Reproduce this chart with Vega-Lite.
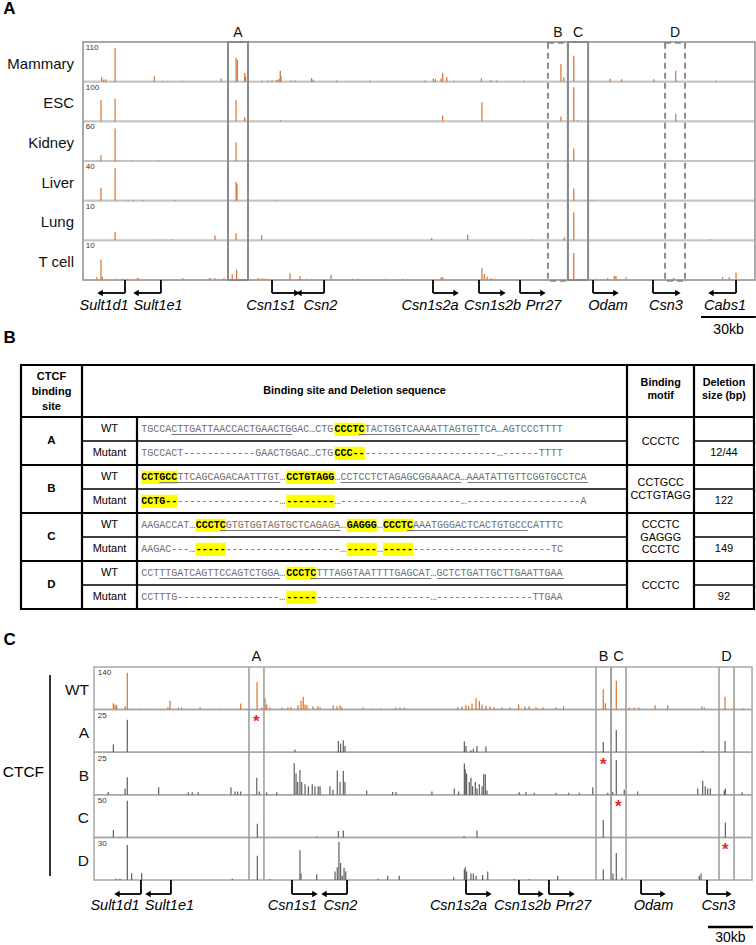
{
  "$schema": "https://vega.github.io/schema/vega-lite/v6.json",
  "padding": 0,
  "autosize": {"type": "pad"},
  "spacing": 0,
  "bounds": "flush",
  "config": {"view": {"stroke": null}, "axis": {"disable": true}, "legend": {"disable": true}, "font": "Liberation Sans"},
  "datasets": {
    "tracksA": [
      {"track": "Mammary", "max": 110}, {"track": "ESC", "max": 100}, {"track": "Kidney", "max": 60},
      {"track": "Liver", "max": 40}, {"track": "Lung", "max": 10}, {"track": "T cell", "max": 10}
    ],
    "signalA": [
      {"track":"Mammary","pos":10.2,"val":12},{"track":"Mammary","pos":11.3,"val":6},{"track":"Mammary","pos":12.5,"val":7},{"track":"Mammary","pos":17.5,"val":93},{"track":"Mammary","pos":38.9,"val":15},{"track":"Mammary","pos":43.8,"val":2},{"track":"Mammary","pos":46.2,"val":2},{"track":"Mammary","pos":54.4,"val":2},{"track":"Mammary","pos":75.4,"val":9},{"track":"Mammary","pos":83.5,"val":67},{"track":"Mammary","pos":84.2,"val":60},{"track":"Mammary","pos":88.2,"val":24},{"track":"Mammary","pos":88.7,"val":14},{"track":"Mammary","pos":97.6,"val":3},{"track":"Mammary","pos":100.9,"val":3},{"track":"Mammary","pos":103.1,"val":4},{"track":"Mammary","pos":105.3,"val":4},{"track":"Mammary","pos":106.2,"val":5},{"track":"Mammary","pos":107.1,"val":8},{"track":"Mammary","pos":107.6,"val":30},{"track":"Mammary","pos":108.0,"val":15},{"track":"Mammary","pos":113.5,"val":3},{"track":"Mammary","pos":115.6,"val":3},{"track":"Mammary","pos":124.7,"val":10},{"track":"Mammary","pos":125.6,"val":5},{"track":"Mammary","pos":138.4,"val":3},{"track":"Mammary","pos":156.5,"val":3},{"track":"Mammary","pos":186.5,"val":3},{"track":"Mammary","pos":191.1,"val":9},{"track":"Mammary","pos":192.2,"val":7},{"track":"Mammary","pos":195.3,"val":9},{"track":"Mammary","pos":196.2,"val":25},{"track":"Mammary","pos":198.4,"val":12},{"track":"Mammary","pos":202.5,"val":3},{"track":"Mammary","pos":217.3,"val":9},{"track":"Mammary","pos":222.5,"val":4},{"track":"Mammary","pos":225.7,"val":3},{"track":"Mammary","pos":240.4,"val":3},{"track":"Mammary","pos":260.7,"val":48},{"track":"Mammary","pos":262.2,"val":12},{"track":"Mammary","pos":267.7,"val":72},{"track":"Mammary","pos":287.6,"val":8},{"track":"Mammary","pos":293.8,"val":7},{"track":"Mammary","pos":311.3,"val":7},{"track":"Mammary","pos":323.3,"val":30},{"track":"Mammary","pos":345.3,"val":3},
      {"track":"ESC","pos":9.8,"val":54},{"track":"ESC","pos":17.5,"val":57},{"track":"ESC","pos":83.5,"val":54},{"track":"ESC","pos":88.2,"val":10},{"track":"ESC","pos":107.8,"val":3},{"track":"ESC","pos":196.2,"val":15},{"track":"ESC","pos":217.6,"val":48},{"track":"ESC","pos":260.7,"val":12},{"track":"ESC","pos":267.7,"val":86},{"track":"ESC","pos":269.8,"val":3},{"track":"ESC","pos":323.3,"val":19},
      {"track":"Kidney","pos":9.8,"val":8.6},{"track":"Kidney","pos":17.5,"val":49},{"track":"Kidney","pos":27.3,"val":1},{"track":"Kidney","pos":40.9,"val":1},{"track":"Kidney","pos":83.5,"val":28},{"track":"Kidney","pos":267.7,"val":19},
      {"track":"Liver","pos":9.8,"val":13},{"track":"Liver","pos":17.5,"val":33},{"track":"Liver","pos":24.5,"val":0.8},{"track":"Liver","pos":27.3,"val":0.8},{"track":"Liver","pos":32.7,"val":0.8},{"track":"Liver","pos":50.2,"val":0.8},{"track":"Liver","pos":83.5,"val":19},{"track":"Liver","pos":84.0,"val":17},{"track":"Liver","pos":105.8,"val":0.8},{"track":"Liver","pos":267.7,"val":12.4},{"track":"Liver","pos":277.7,"val":0.8},
      {"track":"Lung","pos":17.5,"val":2.1},{"track":"Lung","pos":42.0,"val":0.2},{"track":"Lung","pos":48.4,"val":0.2},{"track":"Lung","pos":72.0,"val":1.2},{"track":"Lung","pos":83.5,"val":1.8},{"track":"Lung","pos":97.5,"val":1.3},{"track":"Lung","pos":190.2,"val":0.6},{"track":"Lung","pos":209.8,"val":1.5},{"track":"Lung","pos":245.3,"val":0.2},{"track":"Lung","pos":262.5,"val":0.8},{"track":"Lung","pos":267.7,"val":7.1},{"track":"Lung","pos":342.2,"val":0.2},
      {"track":"T cell","pos":7.5,"val":0.7},{"track":"T cell","pos":9.8,"val":5.2},{"track":"T cell","pos":10.5,"val":0.8},{"track":"T cell","pos":17.5,"val":0.3},{"track":"T cell","pos":21.8,"val":0.3},{"track":"T cell","pos":24.5,"val":0.3},{"track":"T cell","pos":29.3,"val":0.4},{"track":"T cell","pos":30.2,"val":0.5},{"track":"T cell","pos":54.4,"val":0.5},{"track":"T cell","pos":68.9,"val":0.5},{"track":"T cell","pos":69.7,"val":0.4},{"track":"T cell","pos":72.0,"val":0.5},{"track":"T cell","pos":76.9,"val":0.5},{"track":"T cell","pos":81.4,"val":1.5},{"track":"T cell","pos":83.8,"val":2.6},{"track":"T cell","pos":95.6,"val":0.5},{"track":"T cell","pos":97.5,"val":0.4},{"track":"T cell","pos":98.7,"val":0.4},{"track":"T cell","pos":100.2,"val":0.4},{"track":"T cell","pos":112.9,"val":1.7},{"track":"T cell","pos":118.4,"val":1.0},{"track":"T cell","pos":122.0,"val":0.3},{"track":"T cell","pos":135.3,"val":1.3},{"track":"T cell","pos":147.1,"val":0.3},{"track":"T cell","pos":150.2,"val":0.3},{"track":"T cell","pos":165.3,"val":0.3},{"track":"T cell","pos":174.4,"val":0.3},{"track":"T cell","pos":195.3,"val":0.7},{"track":"T cell","pos":196.2,"val":0.7},{"track":"T cell","pos":217.6,"val":3.0},{"track":"T cell","pos":218.9,"val":1.5},{"track":"T cell","pos":220.4,"val":0.8},{"track":"T cell","pos":222.5,"val":0.5},{"track":"T cell","pos":224.4,"val":0.3},{"track":"T cell","pos":267.7,"val":6.8},{"track":"T cell","pos":279.8,"val":0.3},{"track":"T cell","pos":286.2,"val":0.5},{"track":"T cell","pos":289.8,"val":1.0},{"track":"T cell","pos":290.7,"val":1.0},{"track":"T cell","pos":296.2,"val":0.7},{"track":"T cell","pos":322.2,"val":0.5},{"track":"T cell","pos":348.9,"val":0.7},{"track":"T cell","pos":352.5,"val":0.7},{"track":"T cell","pos":356.2,"val":1.9}
    ],
    "regionsA": [
      {"site": "A", "start": 79.1, "end": 90.0, "type": "all tissues"},
      {"site": "B", "start": 253.6, "end": 264.5, "type": "mammary-specific"},
      {"site": "C", "start": 264.5, "end": 275.5, "type": "all tissues"},
      {"site": "D", "start": 317.5, "end": 328.4, "type": "mammary-specific"}
    ],
    "genesA": [
      {"gene": "Sult1d1", "tss": 22.9, "tip": 9.3, "lab": 11.5},
      {"gene": "Sult1e1", "tss": 42.5, "tip": 28.9, "lab": 40.9},
      {"gene": "Csn1s1", "tss": 103.1, "tip": 116.7, "lab": 102.5},
      {"gene": "Csn2", "tss": 131.5, "tip": 117.8, "lab": 129.5},
      {"gene": "Csn1s2a", "tss": 190.9, "tip": 203.5, "lab": 189.3},
      {"gene": "Csn1s2b", "tss": 216.0, "tip": 229.1, "lab": 223.4},
      {"gene": "Prr27", "tss": 238.4, "tip": 250.9, "lab": 251.2},
      {"gene": "Odam", "tss": 278.2, "tip": 290.7, "lab": 286.4},
      {"gene": "Csn3", "tss": 310.9, "tip": 324.5, "lab": 318.0},
      {"gene": "Cabs1", "tss": 356.2, "tip": 342.5, "lab": 350.2}
    ],
    "seqs": [
      {"site":"A","geno":"WT","part":1,"text":"TGCCACTTGATTAACCACTGAACTGGAC…CTG","motif":false},
      {"site":"A","geno":"WT","part":2,"text":"CCCTC","motif":true},
      {"site":"A","geno":"WT","part":3,"text":"TACTGGTCAAAATTAGTGTTCA…AGTCCCTTTT","motif":false},
      {"site":"A","geno":"Mutant","part":1,"text":"TGCCACT------------GAACTGGAC…CTG","motif":false},
      {"site":"A","geno":"Mutant","part":2,"text":"CCC--","motif":true},
      {"site":"A","geno":"Mutant","part":3,"text":"----------------------…------TTTT","motif":false},
      {"site":"B","geno":"WT","part":1,"text":"CCTGCC","motif":true},
      {"site":"B","geno":"WT","part":2,"text":"TTCAGCAGACAATTTGT…","motif":false},
      {"site":"B","geno":"WT","part":3,"text":"CCTGTAGG","motif":true},
      {"site":"B","geno":"WT","part":4,"text":"…CCTCCTCTAGAGCGGAAACA…AAATATTGTTCGGTGCCTCA","motif":false},
      {"site":"B","geno":"Mutant","part":1,"text":"CCTG--","motif":true},
      {"site":"B","geno":"Mutant","part":2,"text":"-----------------…","motif":false},
      {"site":"B","geno":"Mutant","part":3,"text":"--------","motif":true},
      {"site":"B","geno":"Mutant","part":4,"text":"…--------------------…-------------------A","motif":false},
      {"site":"C","geno":"WT","part":1,"text":"AAGACCAT…","motif":false},
      {"site":"C","geno":"WT","part":2,"text":"CCCTC","motif":true},
      {"site":"C","geno":"WT","part":3,"text":"GTGTGGTAGTGCTCAGAGA…","motif":false},
      {"site":"C","geno":"WT","part":4,"text":"GAGGG","motif":true},
      {"site":"C","geno":"WT","part":5,"text":"…","motif":false},
      {"site":"C","geno":"WT","part":6,"text":"CCCTC","motif":true},
      {"site":"C","geno":"WT","part":7,"text":"AAATGGGACTCACTGTGCCCATTTC","motif":false},
      {"site":"C","geno":"Mutant","part":1,"text":"AAGAC---…","motif":false},
      {"site":"C","geno":"Mutant","part":2,"text":"-----","motif":true},
      {"site":"C","geno":"Mutant","part":3,"text":"-------------------…","motif":false},
      {"site":"C","geno":"Mutant","part":4,"text":"-----","motif":true},
      {"site":"C","geno":"Mutant","part":5,"text":"…","motif":false},
      {"site":"C","geno":"Mutant","part":6,"text":"-----","motif":true},
      {"site":"C","geno":"Mutant","part":7,"text":"-----------------------TC","motif":false},
      {"site":"D","geno":"WT","part":1,"text":"CCTTTGATCAGTTCCAGTCTGGA…","motif":false},
      {"site":"D","geno":"WT","part":2,"text":"CCCTC","motif":true},
      {"site":"D","geno":"WT","part":3,"text":"TTTAGGTAATTTTGAGCAT…GCTCTGATTGCTTGAATTGAA","motif":false},
      {"site":"D","geno":"Mutant","part":1,"text":"CCTTTG-----------------…","motif":false},
      {"site":"D","geno":"Mutant","part":2,"text":"-----","motif":true},
      {"site":"D","geno":"Mutant","part":3,"text":"-------------------…----------------TTGAA","motif":false}
    ],
    "underlines": [
      {"site":"A","geno":"WT","from":5,"to":25},{"site":"A","geno":"WT","from":36,"to":56},
      {"site":"B","geno":"WT","from":3,"to":23},{"site":"B","geno":"WT","from":33,"to":53},{"site":"B","geno":"WT","from":54,"to":74},
      {"site":"C","geno":"WT","from":13,"to":33},{"site":"C","geno":"WT","from":44,"to":64},
      {"site":"D","geno":"WT","from":3,"to":23},{"site":"D","geno":"WT","from":28,"to":48},{"site":"D","geno":"WT","from":49,"to":70}
    ],
    "rowsB": [
      {"site":"A","geno":"WT"},{"site":"A","geno":"Mutant","size":"12/44"},
      {"site":"B","geno":"WT"},{"site":"B","geno":"Mutant","size":"122"},
      {"site":"C","geno":"WT"},{"site":"C","geno":"Mutant","size":"149"},
      {"site":"D","geno":"WT"},{"site":"D","geno":"Mutant","size":"92"}
    ],
    "motifsB": [
      {"site":"A","motif":"CCCTC"},{"site":"B","motif":"CCTGCC\nCCTGTAGG"},
      {"site":"C","motif":"CCCTC\nGAGGG\nCCCTC"},{"site":"D","motif":"CCCTC"}
    ],
    "tracksC": [
      {"track": "WT", "max": 140}, {"track": "A", "max": 25}, {"track": "B", "max": 25},
      {"track": "C", "max": 50}, {"track": "D", "max": 30}
    ],
    "signalC": [
      {"track":"WT","pos":12.9,"val":21},{"track":"WT","pos":14,"val":17},{"track":"WT","pos":15.1,"val":14},{"track":"WT","pos":20.7,"val":12},{"track":"WT","pos":22.2,"val":121},{"track":"WT","pos":25.3,"val":3},{"track":"WT","pos":30.7,"val":3},{"track":"WT","pos":37.3,"val":3},{"track":"WT","pos":44,"val":3},{"track":"WT","pos":49.3,"val":8},{"track":"WT","pos":50.7,"val":29},{"track":"WT","pos":56.2,"val":7},{"track":"WT","pos":58.4,"val":7},{"track":"WT","pos":70.7,"val":8},{"track":"WT","pos":84,"val":3},{"track":"WT","pos":97.8,"val":20},{"track":"WT","pos":108.7,"val":90},{"track":"WT","pos":111.8,"val":7},{"track":"WT","pos":114,"val":37},{"track":"WT","pos":115.1,"val":17},{"track":"WT","pos":117.3,"val":7},{"track":"WT","pos":125.3,"val":7},{"track":"WT","pos":129.3,"val":7},{"track":"WT","pos":131.3,"val":8},{"track":"WT","pos":136,"val":14},{"track":"WT","pos":138,"val":28},{"track":"WT","pos":139.5,"val":42},{"track":"WT","pos":140.7,"val":17},{"track":"WT","pos":142,"val":14},{"track":"WT","pos":146,"val":11},{"track":"WT","pos":149.3,"val":11},{"track":"WT","pos":150.7,"val":8},{"track":"WT","pos":159.5,"val":14},{"track":"WT","pos":162,"val":11},{"track":"WT","pos":164,"val":14},{"track":"WT","pos":165.3,"val":8},{"track":"WT","pos":179.5,"val":7},{"track":"WT","pos":185.3,"val":3},{"track":"WT","pos":191.3,"val":4},{"track":"WT","pos":201.3,"val":7},{"track":"WT","pos":204,"val":7},{"track":"WT","pos":206.7,"val":7},{"track":"WT","pos":226.9,"val":3},{"track":"WT","pos":242.4,"val":8},{"track":"WT","pos":245.3,"val":10},{"track":"WT","pos":248,"val":14},{"track":"WT","pos":249.8,"val":12},{"track":"WT","pos":252,"val":20},{"track":"WT","pos":254.7,"val":37},{"track":"WT","pos":256.9,"val":28},{"track":"WT","pos":258.7,"val":17},{"track":"WT","pos":261.3,"val":12},{"track":"WT","pos":264,"val":10},{"track":"WT","pos":266.7,"val":8},{"track":"WT","pos":272,"val":7},{"track":"WT","pos":277.3,"val":7},{"track":"WT","pos":283.1,"val":17},{"track":"WT","pos":287.3,"val":10},{"track":"WT","pos":290,"val":11},{"track":"WT","pos":294.7,"val":8},{"track":"WT","pos":299.3,"val":7},{"track":"WT","pos":308,"val":7},{"track":"WT","pos":313.1,"val":11},{"track":"WT","pos":339.5,"val":67},{"track":"WT","pos":340.9,"val":21},{"track":"WT","pos":348.2,"val":95},{"track":"WT","pos":356.7,"val":7},{"track":"WT","pos":360,"val":7},{"track":"WT","pos":363.3,"val":7},{"track":"WT","pos":374,"val":14},{"track":"WT","pos":382.5,"val":14},{"track":"WT","pos":405.3,"val":11},{"track":"WT","pos":406.9,"val":7},{"track":"WT","pos":420.7,"val":42},{"track":"WT","pos":426.2,"val":4},{"track":"WT","pos":432.9,"val":4},
      {"track":"A","pos":12.9,"val":4.7},{"track":"A","pos":22.2,"val":19},{"track":"A","pos":134,"val":1.6},{"track":"A","pos":162.9,"val":6.6},{"track":"A","pos":164.4,"val":5},{"track":"A","pos":166.2,"val":7},{"track":"A","pos":167.3,"val":3.7},{"track":"A","pos":246.9,"val":6.4},{"track":"A","pos":248,"val":3.7},{"track":"A","pos":251.3,"val":1.2},{"track":"A","pos":252.9,"val":2},{"track":"A","pos":255.3,"val":3.7},{"track":"A","pos":261.3,"val":3.3},{"track":"A","pos":339.5,"val":6},{"track":"A","pos":348.2,"val":13},{"track":"A","pos":405.8,"val":0.8},{"track":"A","pos":420.7,"val":6.6},
      {"track":"B","pos":9.5,"val":1.7},{"track":"B","pos":20.7,"val":3.7},{"track":"B","pos":22.2,"val":10.3},{"track":"B","pos":43.1,"val":4.4},{"track":"B","pos":62.9,"val":1.5},{"track":"B","pos":65.5,"val":1.5},{"track":"B","pos":69.5,"val":1.5},{"track":"B","pos":91.3,"val":4.4},{"track":"B","pos":94,"val":2},{"track":"B","pos":95.8,"val":2},{"track":"B","pos":97.8,"val":2},{"track":"B","pos":108.5,"val":10},{"track":"B","pos":110.2,"val":2},{"track":"B","pos":115.1,"val":1.5},{"track":"B","pos":121.8,"val":1.5},{"track":"B","pos":133.5,"val":18.5},{"track":"B","pos":134.7,"val":12.5},{"track":"B","pos":135.8,"val":7.5},{"track":"B","pos":137.3,"val":14.5},{"track":"B","pos":138.5,"val":7.5},{"track":"B","pos":140.7,"val":6.2},{"track":"B","pos":142.9,"val":5},{"track":"B","pos":145.5,"val":6.2},{"track":"B","pos":147.3,"val":5},{"track":"B","pos":149.5,"val":5},{"track":"B","pos":150.7,"val":5},{"track":"B","pos":157.3,"val":5},{"track":"B","pos":159.3,"val":3},{"track":"B","pos":162.2,"val":14.3},{"track":"B","pos":164,"val":7.5},{"track":"B","pos":166.2,"val":14},{"track":"B","pos":167.3,"val":7.5},{"track":"B","pos":181.8,"val":2.5},{"track":"B","pos":199.1,"val":1.7},{"track":"B","pos":201.3,"val":1.7},{"track":"B","pos":225.3,"val":2},{"track":"B","pos":240.2,"val":3.7},{"track":"B","pos":243.1,"val":2},{"track":"B","pos":246.9,"val":18.3},{"track":"B","pos":247.5,"val":15},{"track":"B","pos":248.4,"val":12.5},{"track":"B","pos":250.2,"val":7.5},{"track":"B","pos":251.3,"val":10},{"track":"B","pos":252.4,"val":5},{"track":"B","pos":254.2,"val":7.5},{"track":"B","pos":255.3,"val":3.7},{"track":"B","pos":256.9,"val":6.2},{"track":"B","pos":258.7,"val":5},{"track":"B","pos":259.8,"val":12},{"track":"B","pos":260.9,"val":12},{"track":"B","pos":262,"val":2.5},{"track":"B","pos":283.5,"val":1.5},{"track":"B","pos":288,"val":1.7},{"track":"B","pos":293.5,"val":1.2},{"track":"B","pos":308,"val":1.2},{"track":"B","pos":316.5,"val":1.2},{"track":"B","pos":323.5,"val":1.2},{"track":"B","pos":332.5,"val":4.4},{"track":"B","pos":342.5,"val":1.2},{"track":"B","pos":345.8,"val":1.7},{"track":"B","pos":348.2,"val":20.4},{"track":"B","pos":353.5,"val":3},{"track":"B","pos":362.5,"val":2},{"track":"B","pos":402.5,"val":3.7},{"track":"B","pos":405.8,"val":8.3},{"track":"B","pos":407.5,"val":5},{"track":"B","pos":409.1,"val":3.7},{"track":"B","pos":410.9,"val":3.7},{"track":"B","pos":420.2,"val":2.5},{"track":"B","pos":420.9,"val":3.7},{"track":"B","pos":432,"val":1.5},
      {"track":"C","pos":12.9,"val":8.6},{"track":"C","pos":22.2,"val":43},{"track":"C","pos":108.9,"val":16},{"track":"C","pos":148.5,"val":1},{"track":"C","pos":162.9,"val":7.5},{"track":"C","pos":166.2,"val":8},{"track":"C","pos":246.7,"val":1.5},{"track":"C","pos":255.3,"val":8},{"track":"C","pos":339.5,"val":20},{"track":"C","pos":420.9,"val":17.5},
      {"track":"D","pos":14.7,"val":0.9},{"track":"D","pos":17.3,"val":0.9},{"track":"D","pos":22.2,"val":24.6},{"track":"D","pos":25.1,"val":4.8},{"track":"D","pos":31.8,"val":4.8},{"track":"D","pos":92.2,"val":0.9},{"track":"D","pos":108.9,"val":17},{"track":"D","pos":117.3,"val":0.6},{"track":"D","pos":137.3,"val":21},{"track":"D","pos":138,"val":4.5},{"track":"D","pos":148.5,"val":4},{"track":"D","pos":160.7,"val":6},{"track":"D","pos":162.2,"val":9},{"track":"D","pos":163.3,"val":27},{"track":"D","pos":164.4,"val":12},{"track":"D","pos":165.5,"val":3},{"track":"D","pos":166.7,"val":8.6},{"track":"D","pos":167.8,"val":6},{"track":"D","pos":189.5,"val":0.9},{"track":"D","pos":195.8,"val":3},{"track":"D","pos":203.5,"val":3},{"track":"D","pos":239.8,"val":2},{"track":"D","pos":246.9,"val":7.5},{"track":"D","pos":247.5,"val":9},{"track":"D","pos":248.4,"val":6},{"track":"D","pos":251.3,"val":4.5},{"track":"D","pos":252.9,"val":4.5},{"track":"D","pos":254.7,"val":3},{"track":"D","pos":259.1,"val":3.6},{"track":"D","pos":262.5,"val":6},{"track":"D","pos":280.2,"val":0.6},{"track":"D","pos":290.2,"val":0.6},{"track":"D","pos":309.1,"val":3},{"track":"D","pos":339.5,"val":7.4},{"track":"D","pos":346,"val":4.5},{"track":"D","pos":348.2,"val":19},{"track":"D","pos":352,"val":1.8},{"track":"D","pos":403.5,"val":3},{"track":"D","pos":404.7,"val":4.5}
    ],
    "regionsC": [
      {"site": "A", "start": 103.3, "end": 113.3},
      {"site": "B", "start": 334.7, "end": 344.7},
      {"site": "C", "start": 344.7, "end": 354.7},
      {"site": "D", "start": 416.7, "end": 426.7}
    ],
    "deletedC": [
      {"track": "A", "pos": 108.2}, {"track": "B", "pos": 339.5},
      {"track": "C", "pos": 349.5}, {"track": "D", "pos": 420.9}
    ],
    "genesC": [
      {"gene": "Sult1d1", "tss": 31.3, "tip": 15.3, "lab": 14.0},
      {"gene": "Sult1e1", "tss": 51.3, "tip": 36.0, "lab": 50.3},
      {"gene": "Csn1s1", "tss": 132.0, "tip": 147.3, "lab": 132.3},
      {"gene": "Csn2", "tss": 168.7, "tip": 153.3, "lab": 164.3},
      {"gene": "Csn1s2a", "tss": 248.0, "tip": 263.3, "lab": 243.0},
      {"gene": "Csn1s2b", "tss": 283.3, "tip": 298.0, "lab": 285.7},
      {"gene": "Prr27", "tss": 303.3, "tip": 318.7, "lab": 319.7},
      {"gene": "Odam", "tss": 364.7, "tip": 379.3, "lab": 373.0},
      {"gene": "Csn3", "tss": 408.7, "tip": 423.3, "lab": 416.3}
    ]
  },
  "vconcat": [
    {
      "width": 756,
      "height": 335,
      "layer": [
        {
          "data": {"name": "tracksA"},
          "transform": [
            {"calculate": "indexof(['Mammary','ESC','Kidney','Liver','Lung','T cell'], datum.track)", "as": "i"},
            {"calculate": "datum.i + 1", "as": "i1"}
          ],
          "mark": {"type": "rect", "fillOpacity": 0, "stroke": "#c4c4c4", "strokeWidth": 1.8},
          "encoding": {
            "x": {"datum": 0, "type": "quantitative", "scale": {"domain": [-45.273, 367.091], "nice": false, "zero": false}},
            "x2": {"datum": 366.5},
            "y": {"field": "i", "type": "quantitative", "scale": {"domain": [-1.0588, 7.386], "reverse": true, "nice": false, "zero": false}},
            "y2": {"field": "i1"}
          }
        },
        {
          "data": {"name": "signalA"},
          "transform": [
            {"lookup": "track", "from": {"data": {"name": "tracksA"}, "key": "track", "fields": ["max"]}},
            {"calculate": "indexof(['Mammary','ESC','Kidney','Liver','Lung','T cell'], datum.track) + 1", "as": "base"},
            {"calculate": "datum.base - datum.val / datum.max", "as": "top"}
          ],
          "mark": {"type": "rule", "color": "#d9712a", "strokeWidth": 1.2},
          "encoding": {
            "x": {"field": "pos", "type": "quantitative"},
            "y": {"field": "base", "type": "quantitative"},
            "y2": {"field": "top"}
          }
        },
        {
          "data": {"values": [{}]},
          "mark": {"type": "rect", "fillOpacity": 0, "stroke": "#9e9e9e", "strokeWidth": 1.5},
          "encoding": {
            "x": {"datum": 0, "type": "quantitative"}, "x2": {"datum": 366.5},
            "y": {"datum": 0, "type": "quantitative"}, "y2": {"datum": 6}
          }
        },
        {
          "data": {"name": "regionsA"},
          "transform": [{"filter": "datum.type == 'mammary-specific'"}],
          "mark": {"type": "rect", "fillOpacity": 0, "stroke": "#8a8a8a", "strokeWidth": 2, "strokeDash": [6, 4]},
          "encoding": {
            "x": {"field": "start", "type": "quantitative"}, "x2": {"field": "end"},
            "y": {"datum": 0.02, "type": "quantitative"}, "y2": {"datum": 6.02}
          }
        },
        {
          "data": {"name": "regionsA"},
          "transform": [{"filter": "datum.type == 'all tissues'"}],
          "mark": {"type": "rect", "fillOpacity": 0, "stroke": "#8a8a8a", "strokeWidth": 2},
          "encoding": {
            "x": {"field": "start", "type": "quantitative"}, "x2": {"field": "end"},
            "y": {"datum": 0, "type": "quantitative"}, "y2": {"datum": 6}
          }
        },
        {
          "data": {"name": "regionsA"},
          "transform": [{"calculate": "(datum.start + datum.end) / 2", "as": "mid"}],
          "mark": {"type": "text", "fontSize": 14, "baseline": "middle", "color": "#111"},
          "encoding": {
            "x": {"field": "mid", "type": "quantitative"},
            "y": {"datum": -0.23, "type": "quantitative"},
            "text": {"field": "site"}
          }
        },
        {
          "data": {"name": "tracksA"},
          "transform": [
            {"calculate": "indexof(['Mammary','ESC','Kidney','Liver','Lung','T cell'], datum.track) + 0.55", "as": "ly"}
          ],
          "mark": {"type": "text", "fontSize": 15, "align": "right", "baseline": "middle", "color": "#111"},
          "encoding": {
            "x": {"datum": -4.9, "type": "quantitative"},
            "y": {"field": "ly", "type": "quantitative"},
            "text": {"field": "track"}
          }
        },
        {
          "data": {"name": "tracksA"},
          "transform": [
            {"calculate": "indexof(['Mammary','ESC','Kidney','Liver','Lung','T cell'], datum.track) + 0.15", "as": "ty"}
          ],
          "mark": {"type": "text", "fontSize": 8, "align": "left", "baseline": "middle", "color": "#333"},
          "encoding": {
            "x": {"datum": 1.5, "type": "quantitative"},
            "y": {"field": "ty", "type": "quantitative"},
            "text": {"field": "max"}
          }
        },
        {
          "data": {"name": "genesA"},
          "mark": {"type": "rule", "color": "#000", "strokeWidth": 1.8},
          "encoding": {
            "x": {"field": "tss", "type": "quantitative"},
            "y": {"datum": 6, "type": "quantitative"}, "y2": {"datum": 6.327}
          }
        },
        {
          "data": {"name": "genesA"},
          "mark": {"type": "rule", "color": "#000", "strokeWidth": 1.8},
          "encoding": {
            "x": {"field": "tss", "type": "quantitative"}, "x2": {"field": "tip"},
            "y": {"datum": 6.327, "type": "quantitative"}
          }
        },
        {
          "data": {"name": "genesA"},
          "transform": [{"calculate": "datum.tip > datum.tss ? 'right' : 'left'", "as": "dir"}],
          "mark": {"type": "point", "filled": true, "color": "#000", "size": 40, "opacity": 1},
          "encoding": {
            "x": {"field": "tip", "type": "quantitative"},
            "y": {"datum": 6.327, "type": "quantitative"},
            "shape": {"field": "dir", "type": "nominal", "scale": {"domain": ["left", "right"], "range": ["triangle-left", "triangle-right"]}, "legend": null}
          }
        },
        {
          "data": {"name": "genesA"},
          "mark": {"type": "text", "fontSize": 14.5, "fontStyle": "italic", "baseline": "middle", "color": "#000"},
          "encoding": {
            "x": {"field": "lab", "type": "quantitative"},
            "y": {"datum": 6.655, "type": "quantitative"},
            "text": {"field": "gene"}
          }
        },
        {
          "data": {"values": [{}]},
          "mark": {"type": "rule", "color": "#000", "strokeWidth": 2},
          "encoding": {
            "x": {"datum": 337.1, "type": "quantitative"}, "x2": {"datum": 367.0},
            "y": {"datum": 6.932, "type": "quantitative"}
          }
        },
        {
          "data": {"values": [{}]},
          "mark": {"type": "text", "text": "30kb", "fontSize": 14, "baseline": "middle", "color": "#000"},
          "encoding": {
            "x": {"datum": 352.1, "type": "quantitative"},
            "y": {"datum": 7.26, "type": "quantitative"}
          }
        },
        {
          "data": {"values": [{}]},
          "mark": {"type": "text", "text": "A", "fontSize": 17, "fontWeight": "bold", "align": "left", "baseline": "middle", "color": "#000"},
          "encoding": {
            "x": {"datum": -43.5, "type": "quantitative"},
            "y": {"datum": -0.82, "type": "quantitative"}
          }
        }
      ]
    },
    {
      "width": 756,
      "height": 280,
      "layer": [
        {
          "data": {"name": "seqs"},
          "transform": [
            {"calculate": "length(datum.text)", "as": "len"},
            {"window": [{"op": "sum", "field": "len", "as": "cum"}], "groupby": ["site", "geno"], "sort": [{"field": "part", "order": "ascending"}], "frame": [null, 0]},
            {"calculate": "datum.cum - datum.len", "as": "start"},
            {"calculate": "indexof(['A','B','C','D'], datum.site) * 2 + (datum.geno == 'Mutant' ? 1 : 0)", "as": "row"},
            {"calculate": "datum.row + 0.24", "as": "hy1"},
            {"calculate": "datum.row + 0.79", "as": "hy2"},
            {"filter": "datum.motif"}
          ],
          "mark": {"type": "rect", "color": "#ffff00"},
          "encoding": {
            "x": {"field": "start", "type": "quantitative", "scale": {"domain": [-23.394, 101.772], "nice": false, "zero": false}},
            "x2": {"field": "cum"},
            "y": {"field": "hy1", "type": "quantitative", "scale": {"domain": [-3.4167, 8.25], "reverse": true, "nice": false, "zero": false}},
            "y2": {"field": "hy2"}
          }
        },
        {
          "data": {"name": "seqs"},
          "transform": [
            {"calculate": "length(datum.text)", "as": "len"},
            {"window": [{"op": "sum", "field": "len", "as": "cum"}], "groupby": ["site", "geno"], "sort": [{"field": "part", "order": "ascending"}], "frame": [null, 0]},
            {"calculate": "datum.cum - datum.len", "as": "start"},
            {"calculate": "indexof(['A','B','C','D'], datum.site) * 2 + (datum.geno == 'Mutant' ? 1 : 0) + 0.5", "as": "ty"},
            {"filter": "!datum.motif"}
          ],
          "mark": {"type": "text", "font": "Liberation Mono", "fontSize": 10, "align": "left", "baseline": "middle", "color": "#6e6e6e"},
          "encoding": {
            "x": {"field": "start", "type": "quantitative"},
            "y": {"field": "ty", "type": "quantitative"},
            "text": {"field": "text"}
          }
        },
        {
          "data": {"name": "seqs"},
          "transform": [
            {"calculate": "length(datum.text)", "as": "len"},
            {"window": [{"op": "sum", "field": "len", "as": "cum"}], "groupby": ["site", "geno"], "sort": [{"field": "part", "order": "ascending"}], "frame": [null, 0]},
            {"calculate": "datum.cum - datum.len", "as": "start"},
            {"calculate": "indexof(['A','B','C','D'], datum.site) * 2 + (datum.geno == 'Mutant' ? 1 : 0) + 0.5", "as": "ty"},
            {"filter": "datum.motif"}
          ],
          "mark": {"type": "text", "font": "Liberation Mono", "fontSize": 10, "fontWeight": "bold", "align": "left", "baseline": "middle", "color": "#000"},
          "encoding": {
            "x": {"field": "start", "type": "quantitative"},
            "y": {"field": "ty", "type": "quantitative"},
            "text": {"field": "text"}
          }
        },
        {
          "data": {"name": "underlines"},
          "transform": [
            {"calculate": "indexof(['A','B','C','D'], datum.site) * 2 + (datum.geno == 'Mutant' ? 1 : 0) + 0.73", "as": "uy"}
          ],
          "mark": {"type": "rule", "color": "#777", "strokeWidth": 1},
          "encoding": {
            "x": {"field": "from", "type": "quantitative"}, "x2": {"field": "to"},
            "y": {"field": "uy", "type": "quantitative"}
          }
        },
        {
          "data": {"name": "rowsB"},
          "transform": [
            {"calculate": "indexof(['A','B','C','D'], datum.site) * 2 + (datum.geno == 'Mutant' ? 1 : 0)", "as": "row"},
            {"filter": "datum.geno == 'WT'"}
          ],
          "mark": {"type": "rule", "color": "#000", "strokeWidth": 2.2},
          "encoding": {
            "x": {"datum": -19.917, "type": "quantitative"}, "x2": {"datum": 101.44},
            "y": {"field": "row", "type": "quantitative"}
          }
        },
        {
          "data": {"name": "rowsB"},
          "transform": [
            {"calculate": "indexof(['A','B','C','D'], datum.site) * 2 + (datum.geno == 'Mutant' ? 1 : 0)", "as": "row"},
            {"filter": "datum.geno == 'Mutant'"}
          ],
          "mark": {"type": "rule", "color": "#000", "strokeWidth": 1.6},
          "encoding": {
            "x": {"datum": -9.818, "type": "quantitative"}, "x2": {"datum": 80.414},
            "y": {"field": "row", "type": "quantitative"}
          }
        },
        {
          "data": {"name": "rowsB"},
          "transform": [
            {"calculate": "indexof(['A','B','C','D'], datum.site) * 2 + (datum.geno == 'Mutant' ? 1 : 0)", "as": "row"},
            {"filter": "datum.geno == 'Mutant'"}
          ],
          "mark": {"type": "rule", "color": "#000", "strokeWidth": 1.6},
          "encoding": {
            "x": {"datum": 91.507, "type": "quantitative"}, "x2": {"datum": 101.44},
            "y": {"field": "row", "type": "quantitative"}
          }
        },
        {
          "data": {"values": [{}]},
          "mark": {"type": "rect", "fillOpacity": 0, "stroke": "#000", "strokeWidth": 2.2},
          "encoding": {
            "x": {"datum": -19.917, "type": "quantitative"}, "x2": {"datum": 101.44},
            "y": {"datum": -2.1667, "type": "quantitative"}, "y2": {"datum": 8}
          }
        },
        {
          "data": {"values": [{}]},
          "mark": {"type": "rule", "color": "#000", "strokeWidth": 2.2},
          "encoding": {
            "x": {"datum": -9.818, "type": "quantitative"},
            "y": {"datum": -2.1667, "type": "quantitative"}, "y2": {"datum": 8}
          }
        },
        {
          "data": {"values": [{}]},
          "mark": {"type": "rule", "color": "#000", "strokeWidth": 2.2},
          "encoding": {
            "x": {"datum": -0.712, "type": "quantitative"},
            "y": {"datum": 0, "type": "quantitative"}, "y2": {"datum": 8}
          }
        },
        {
          "data": {"values": [{}]},
          "mark": {"type": "rule", "color": "#000", "strokeWidth": 2.2},
          "encoding": {
            "x": {"datum": 80.414, "type": "quantitative"},
            "y": {"datum": -2.1667, "type": "quantitative"}, "y2": {"datum": 8}
          }
        },
        {
          "data": {"values": [{}]},
          "mark": {"type": "rule", "color": "#000", "strokeWidth": 2.2},
          "encoding": {
            "x": {"datum": 91.507, "type": "quantitative"},
            "y": {"datum": -2.1667, "type": "quantitative"}, "y2": {"datum": 8}
          }
        },
        {
          "data": {"values": [{}]},
          "mark": {"type": "text", "text": "CTCF\nbinding\nsite", "lineBreak": "\n", "lineHeight": 15, "fontSize": 11, "fontWeight": "bold", "align": "center", "baseline": "middle", "color": "#000"},
          "encoding": {
            "x": {"datum": -14.868, "type": "quantitative"},
            "y": {"datum": -1.679, "type": "quantitative"}
          }
        },
        {
          "data": {"values": [{}]},
          "mark": {"type": "text", "text": "Binding site and Deletion sequence", "fontSize": 10.8, "fontWeight": "bold", "align": "center", "baseline": "middle", "color": "#000"},
          "encoding": {
            "x": {"datum": 35.3, "type": "quantitative"},
            "y": {"datum": -1.083, "type": "quantitative"}
          }
        },
        {
          "data": {"values": [{}]},
          "mark": {"type": "text", "text": "Binding\nmotif", "lineBreak": "\n", "lineHeight": 13.5, "fontSize": 10.8, "fontWeight": "bold", "align": "center", "baseline": "middle", "color": "#000"},
          "encoding": {
            "x": {"datum": 85.99, "type": "quantitative"},
            "y": {"datum": -1.417, "type": "quantitative"}
          }
        },
        {
          "data": {"values": [{}]},
          "mark": {"type": "text", "text": "Deletion\nsize (bp)", "lineBreak": "\n", "lineHeight": 13.5, "fontSize": 10.8, "fontWeight": "bold", "align": "center", "baseline": "middle", "color": "#000"},
          "encoding": {
            "x": {"datum": 96.47, "type": "quantitative"},
            "y": {"datum": -1.417, "type": "quantitative"}
          }
        },
        {
          "data": {"name": "rowsB"},
          "transform": [
            {"filter": "datum.geno == 'WT'"},
            {"calculate": "indexof(['A','B','C','D'], datum.site) * 2 + 1", "as": "sy"}
          ],
          "mark": {"type": "text", "fontSize": 11.5, "fontWeight": "bold", "align": "center", "baseline": "middle", "color": "#000"},
          "encoding": {
            "x": {"datum": -14.868, "type": "quantitative"},
            "y": {"field": "sy", "type": "quantitative"},
            "text": {"field": "site"}
          }
        },
        {
          "data": {"name": "rowsB"},
          "transform": [
            {"calculate": "indexof(['A','B','C','D'], datum.site) * 2 + (datum.geno == 'Mutant' ? 1 : 0) + 0.5", "as": "ty"}
          ],
          "mark": {"type": "text", "fontSize": 11, "align": "center", "baseline": "middle", "color": "#000"},
          "encoding": {
            "x": {"datum": -5.265, "type": "quantitative"},
            "y": {"field": "ty", "type": "quantitative"},
            "text": {"field": "geno"}
          }
        },
        {
          "data": {"name": "rowsB"},
          "transform": [
            {"filter": "datum.geno == 'Mutant'"},
            {"calculate": "indexof(['A','B','C','D'], datum.site) * 2 + 1.5", "as": "ty"}
          ],
          "mark": {"type": "text", "fontSize": 11, "align": "center", "baseline": "middle", "color": "#000"},
          "encoding": {
            "x": {"datum": 96.47, "type": "quantitative"},
            "y": {"field": "ty", "type": "quantitative"},
            "text": {"field": "size"}
          }
        },
        {
          "data": {"name": "motifsB"},
          "transform": [
            {"calculate": "indexof(['A','B','C','D'], datum.site) * 2 + 1.04 - (length(split(datum.motif, '\\n')) - 1) * 0.27", "as": "my"}
          ],
          "mark": {"type": "text", "lineBreak": "\n", "lineHeight": 12.5, "fontSize": 10.8, "align": "center", "baseline": "middle", "color": "#000"},
          "encoding": {
            "x": {"datum": 85.99, "type": "quantitative"},
            "y": {"field": "my", "type": "quantitative"},
            "text": {"field": "motif"}
          }
        },
        {
          "data": {"values": [{}]},
          "mark": {"type": "text", "text": "B", "fontSize": 17, "fontWeight": "bold", "align": "left", "baseline": "middle", "color": "#000"},
          "encoding": {
            "x": {"datum": -22.81, "type": "quantitative"},
            "y": {"datum": -3.29, "type": "quantitative"}
          }
        }
      ]
    },
    {
      "width": 756,
      "height": 330,
      "layer": [
        {
          "data": {"name": "tracksC"},
          "transform": [
            {"calculate": "indexof(['WT','A','B','C','D'], datum.track)", "as": "i"},
            {"calculate": "datum.i + 1", "as": "i1"}
          ],
          "mark": {"type": "rect", "fillOpacity": 0, "stroke": "#a8a8a8", "strokeWidth": 1.5},
          "encoding": {
            "x": {"datum": 0, "type": "quantitative", "scale": {"domain": [-62.667, 441.333], "nice": false, "zero": false}},
            "x2": {"datum": 438.7},
            "y": {"field": "i", "type": "quantitative", "scale": {"domain": [-1.2207, 6.5258], "reverse": true, "nice": false, "zero": false}},
            "y2": {"field": "i1"}
          }
        },
        {
          "data": {"name": "signalC"},
          "transform": [
            {"lookup": "track", "from": {"data": {"name": "tracksC"}, "key": "track", "fields": ["max"]}},
            {"calculate": "indexof(['WT','A','B','C','D'], datum.track) + 1", "as": "base"},
            {"calculate": "datum.base - datum.val / datum.max", "as": "top"},
            {"calculate": "datum.track == 'WT' ? 'wild type' : 'CTCF site deletion'", "as": "genotype"}
          ],
          "mark": {"type": "rule", "strokeWidth": 1.2},
          "encoding": {
            "x": {"field": "pos", "type": "quantitative"},
            "y": {"field": "base", "type": "quantitative"},
            "y2": {"field": "top"},
            "color": {"field": "genotype", "type": "nominal", "scale": {"domain": ["wild type", "CTCF site deletion"], "range": ["#d9712a", "#5e5e5e"]}, "legend": null}
          }
        },
        {
          "data": {"name": "regionsC"},
          "mark": {"type": "rule", "color": "#9a9a9a", "strokeWidth": 1.5},
          "encoding": {
            "x": {"field": "start", "type": "quantitative"},
            "y": {"datum": 0, "type": "quantitative"}, "y2": {"datum": 5}
          }
        },
        {
          "data": {"name": "regionsC"},
          "mark": {"type": "rule", "color": "#9a9a9a", "strokeWidth": 1.5},
          "encoding": {
            "x": {"field": "end", "type": "quantitative"},
            "y": {"datum": 0, "type": "quantitative"}, "y2": {"datum": 5}
          }
        },
        {
          "data": {"name": "regionsC"},
          "transform": [{"calculate": "(datum.start + datum.end) / 2", "as": "mid"}],
          "mark": {"type": "text", "fontSize": 14.5, "baseline": "middle", "color": "#111"},
          "encoding": {
            "x": {"field": "mid", "type": "quantitative"},
            "y": {"datum": -0.235, "type": "quantitative"},
            "text": {"field": "site"}
          }
        },
        {
          "data": {"name": "tracksC"},
          "transform": [
            {"calculate": "indexof(['WT','A','B','C','D'], datum.track) + 0.55", "as": "ly"}
          ],
          "mark": {"type": "text", "fontSize": 15.5, "align": "right", "baseline": "middle", "color": "#111"},
          "encoding": {
            "x": {"datum": -3.33, "type": "quantitative"},
            "y": {"field": "ly", "type": "quantitative"},
            "text": {"field": "track"}
          }
        },
        {
          "data": {"name": "tracksC"},
          "transform": [
            {"calculate": "indexof(['WT','A','B','C','D'], datum.track) + 0.15", "as": "ty"}
          ],
          "mark": {"type": "text", "fontSize": 8, "align": "left", "baseline": "middle", "color": "#333"},
          "encoding": {
            "x": {"datum": 2.5, "type": "quantitative"},
            "y": {"field": "ty", "type": "quantitative"},
            "text": {"field": "max"}
          }
        },
        {
          "data": {"name": "deletedC"},
          "transform": [
            {"calculate": "indexof(['WT','A','B','C','D'], datum.track) + 0.2", "as": "ay"}
          ],
          "mark": {"type": "text", "text": "*", "fontSize": 17, "fontWeight": "bold", "align": "center", "baseline": "alphabetic", "dy": 9, "color": "#e8262a"},
          "encoding": {
            "x": {"field": "pos", "type": "quantitative"},
            "y": {"field": "ay", "type": "quantitative"}
          }
        },
        {
          "data": {"values": [{}]},
          "mark": {"type": "text", "text": "CTCF", "fontSize": 15.5, "align": "right", "baseline": "middle", "color": "#000"},
          "encoding": {
            "x": {"datum": -33.3, "type": "quantitative"},
            "y": {"datum": 2.458, "type": "quantitative"}
          }
        },
        {
          "data": {"values": [{}]},
          "mark": {"type": "rule", "color": "#000", "strokeWidth": 1.6},
          "encoding": {
            "x": {"datum": -29.33, "type": "quantitative"},
            "y": {"datum": 0.188, "type": "quantitative"}, "y2": {"datum": 4.906}
          }
        },
        {
          "data": {"name": "genesC"},
          "mark": {"type": "rule", "color": "#000", "strokeWidth": 1.8},
          "encoding": {
            "x": {"field": "tss", "type": "quantitative"},
            "y": {"datum": 5, "type": "quantitative"}, "y2": {"datum": 5.329}
          }
        },
        {
          "data": {"name": "genesC"},
          "mark": {"type": "rule", "color": "#000", "strokeWidth": 1.8},
          "encoding": {
            "x": {"field": "tss", "type": "quantitative"}, "x2": {"field": "tip"},
            "y": {"datum": 5.329, "type": "quantitative"}
          }
        },
        {
          "data": {"name": "genesC"},
          "transform": [{"calculate": "datum.tip > datum.tss ? 'right' : 'left'", "as": "dir"}],
          "mark": {"type": "point", "filled": true, "color": "#000", "size": 40, "opacity": 1},
          "encoding": {
            "x": {"field": "tip", "type": "quantitative"},
            "y": {"datum": 5.329, "type": "quantitative"},
            "shape": {"field": "dir", "type": "nominal", "scale": {"domain": ["left", "right"], "range": ["triangle-left", "triangle-right"]}, "legend": null}
          }
        },
        {
          "data": {"name": "genesC"},
          "mark": {"type": "text", "fontSize": 14.5, "fontStyle": "italic", "baseline": "middle", "color": "#000"},
          "encoding": {
            "x": {"field": "lab", "type": "quantitative"},
            "y": {"datum": 5.622, "type": "quantitative"},
            "text": {"field": "gene"}
          }
        },
        {
          "data": {"values": [{}]},
          "mark": {"type": "rule", "color": "#000", "strokeWidth": 2.5},
          "encoding": {
            "x": {"datum": 409.3, "type": "quantitative"}, "x2": {"datum": 439.3},
            "y": {"datum": 6.103, "type": "quantitative"}
          }
        },
        {
          "data": {"values": [{}]},
          "mark": {"type": "text", "text": "30kb", "fontSize": 14, "baseline": "middle", "color": "#000"},
          "encoding": {
            "x": {"datum": 424.3, "type": "quantitative"},
            "y": {"datum": 6.362, "type": "quantitative"}
          }
        },
        {
          "data": {"values": [{}]},
          "mark": {"type": "text", "text": "C", "fontSize": 17, "fontWeight": "bold", "align": "left", "baseline": "middle", "color": "#000"},
          "encoding": {
            "x": {"datum": -60.33, "type": "quantitative"},
            "y": {"datum": -0.6455, "type": "quantitative"}
          }
        }
      ]
    }
  ]
}
